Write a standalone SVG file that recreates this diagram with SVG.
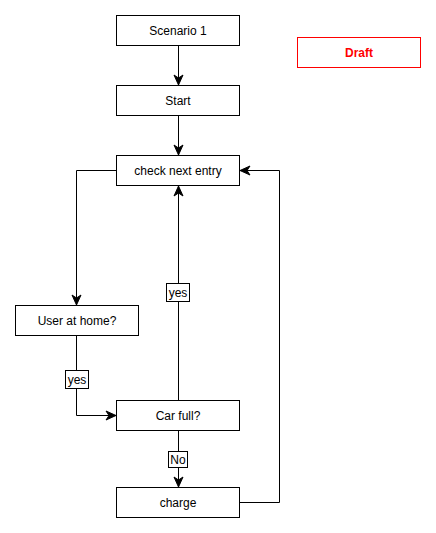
<svg xmlns="http://www.w3.org/2000/svg" width="436" height="533" viewBox="0 0 436 533">
<style>
.box{fill:#fff;stroke:#000;stroke-width:1}
.lbl{fill:#fff;stroke:#000;stroke-width:1}
.t{font-family:"Liberation Sans",Arial,sans-serif;font-size:12px;text-anchor:middle;fill:#000}
.edge{fill:none;stroke:#000;stroke-width:1}
</style>
<defs>
<marker id="arr" markerUnits="userSpaceOnUse" markerWidth="12" markerHeight="12" viewBox="-11 -6 12 12" refX="0" refY="0" orient="auto">
<path d="M-10,-4.5 L0,0 L-10,4.5 L-7,0 Z" fill="#000" stroke="#000" stroke-width="1"/>
</marker>
</defs>
<rect width="436" height="533" fill="#fff"/>
<g id="connectors">
<path class="edge" d="M178.5,45.5 V85" marker-end="url(#arr)"/>
<path class="edge" d="M178.5,115.5 V155" marker-end="url(#arr)"/>
<path class="edge" d="M116.5,170.5 H76.5 V305" marker-end="url(#arr)"/>
<path class="edge" d="M76.5,335.5 V415.5 H116" marker-end="url(#arr)"/>
<path class="edge" d="M178.5,400.5 V186" marker-end="url(#arr)"/>
<path class="edge" d="M178.5,430.5 V487" marker-end="url(#arr)"/>
<path class="edge" d="M239.5,502.5 H279.5 V170.5 H240" marker-end="url(#arr)"/>
<g id="label-yes1"><rect class="lbl" x="65.5" y="370.5" width="23" height="18"/><text class="t" x="77" y="384">yes</text></g>
<g id="label-yes2"><rect class="lbl" x="166.5" y="283.5" width="23" height="18"/><text class="t" x="178" y="297">yes</text></g>
<g id="label-no"><rect class="lbl" x="168.5" y="451.5" width="19" height="16"/><text class="t" x="178" y="464">No</text></g>
</g>
<g id="scenario"><rect class="box" x="116.5" y="15.5" width="123" height="30"/><text class="t" x="178" y="35">Scenario 1</text></g>
<g id="draft"><rect x="297.5" y="37.5" width="123" height="30" fill="#fff" stroke="#ff0000"/><text class="t" x="359" y="57" fill="#ff0000" style="fill:#ff0000;font-weight:bold">Draft</text></g>
<g id="start"><rect class="box" x="116.5" y="85.5" width="123" height="30"/><text class="t" x="178" y="105">Start</text></g>
<g id="check"><rect class="box" x="116.5" y="155.5" width="123" height="30"/><text class="t" x="178" y="175">check next entry</text></g>
<g id="home"><rect class="box" x="15.5" y="305.5" width="123" height="30"/><text class="t" x="77" y="325">User at home?</text></g>
<g id="carfull"><rect class="box" x="116.5" y="400.5" width="123" height="30"/><text class="t" x="178" y="420">Car full?</text></g>
<g id="charge"><rect class="box" x="116.5" y="487.5" width="123" height="30"/><text class="t" x="178" y="507">charge</text></g>
</svg>
